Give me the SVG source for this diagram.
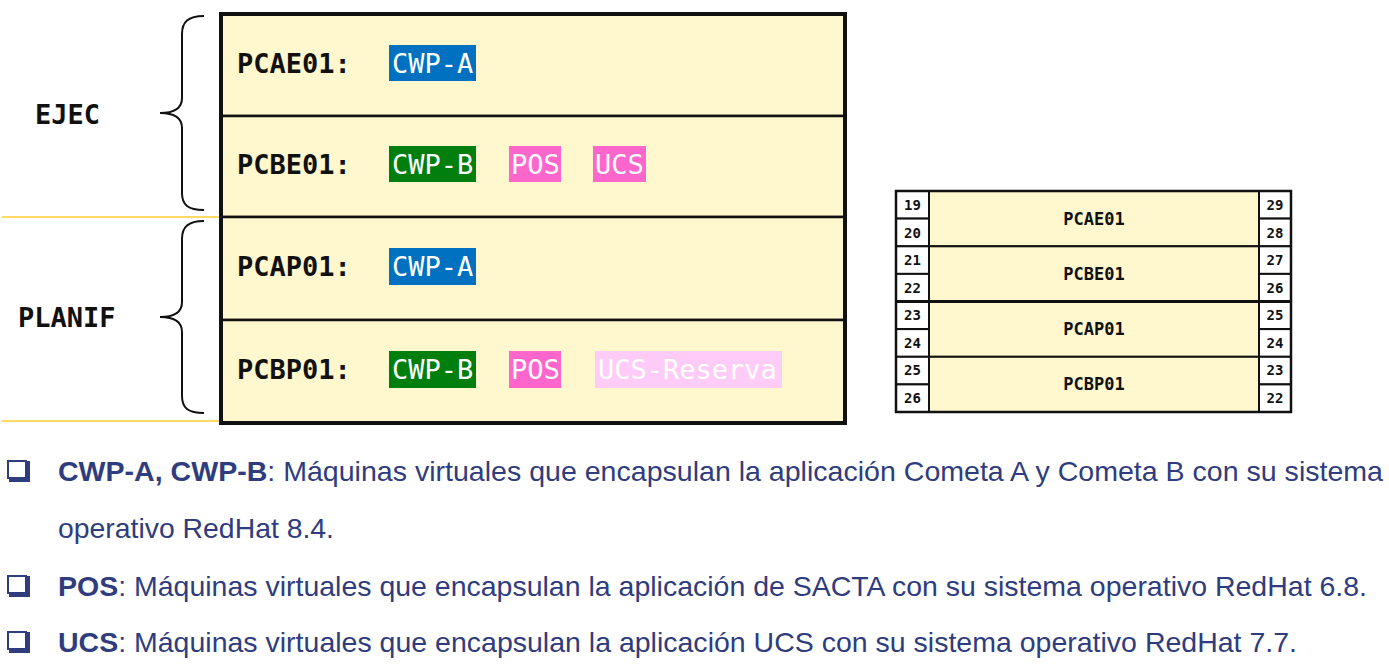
<svg xmlns="http://www.w3.org/2000/svg" width="1389" height="666" viewBox="0 0 1389 666">
<style>
.mono{font-family:"DejaVu Sans Mono","Liberation Mono",monospace;font-size:27px}
.b{font-weight:bold}
.lbl{fill:#111}
.hl{fill:#ffffff}
.row{fill:#FFF7CE;stroke:#111;stroke-width:2.5}
.brace{fill:none;stroke:#111;stroke-width:2}
.sep{stroke:#FFD966;stroke-width:2}
.tcell{fill:#ffffff;stroke:#111;stroke-width:2}
.trow{fill:#FFF7CE;stroke:#111;stroke-width:2}
.tnum{font-family:"DejaVu Sans Mono","Liberation Mono",monospace;font-size:14px;font-weight:bold;fill:#111;text-anchor:middle}
.tlbl{font-family:"DejaVu Sans Mono","Liberation Mono",monospace;font-size:17px;font-weight:bold;fill:#111;text-anchor:middle}
.body{font-family:"Liberation Sans",Arial,sans-serif;font-size:28px;fill:#2F3C7E}
.chk{fill:none;stroke:#2F3C7E;stroke-width:2}
.chks{fill:#2F3C7E}
</style>
<rect width="1389" height="666" fill="#ffffff"/>

<g id="separators">
<line class="sep" x1="2" y1="217" x2="221" y2="217"/>
<line class="sep" x1="2" y1="421" x2="221" y2="421"/>
</g>

<g id="group-ejec">
<path class="brace" d="M204 16 C188 16 182 22 182 34 L182 98 C182 108 174 113 160 113 C174 113 182 118 182 128 L182 193 C182 205 188 210 204 210"/>
<text class="mono b lbl" x="35" y="124">EJEC</text>
</g>
<g id="group-planif">
<path class="brace" d="M204 221 C188 221 182 227 182 239 L182 302 C182 312 174 317 160 317 C174 317 182 322 182 332 L182 396 C182 408 188 413 204 413"/>
<text class="mono b lbl" x="18" y="327">PLANIF</text>
</g>

<g id="row-PCAE01">
<rect class="row" x="221" y="14" width="624" height="102"/>
<text class="mono b lbl" x="237" y="73">PCAE01:</text>
<rect x="389" y="45" width="87" height="36" fill="#0070C0"/>
<text class="mono hl" x="392" y="73">CWP-A</text>
</g>
<g id="row-PCBE01">
<rect class="row" x="221" y="116" width="624" height="101"/>
<text class="mono b lbl" x="237" y="174">PCBE01:</text>
<rect x="389" y="146" width="87" height="36" fill="#007F0E"/>
<text class="mono hl" x="392" y="174">CWP-B</text>
<rect x="509" y="146" width="52" height="36" fill="#FF66CC"/>
<text class="mono hl" x="511" y="174">POS</text>
<rect x="593" y="146" width="53" height="36" fill="#FF66CC"/>
<text class="mono hl" x="595" y="174">UCS</text>
</g>
<g id="row-PCAP01">
<rect class="row" x="221" y="217" width="624" height="103"/>
<text class="mono b lbl" x="237" y="276">PCAP01:</text>
<rect x="389" y="248" width="87" height="37" fill="#0070C0"/>
<text class="mono hl" x="392" y="276">CWP-A</text>
</g>
<g id="row-PCBP01">
<rect class="row" x="221" y="320" width="624" height="103"/>
<text class="mono b lbl" x="237" y="379">PCBP01:</text>
<rect x="389" y="351" width="87" height="37" fill="#007F0E"/>
<text class="mono hl" x="392" y="379">CWP-B</text>
<rect x="509" y="351" width="52" height="37" fill="#FF66CC"/>
<text class="mono hl" x="511" y="379">POS</text>
<rect x="595" y="351" width="187" height="37" fill="#FFCCF7"/>
<text class="mono hl" x="598" y="379">UCS-Reserva</text>
</g>
<rect x="221" y="14" width="624" height="409" fill="none" stroke="#111" stroke-width="4"/>

<g id="rack">
<g id="rack-PCAE01">
<rect class="trow" x="929" y="191" width="330" height="55.3"/>
<rect class="tcell" x="896" y="191" width="33" height="27.6"/>
<rect class="tcell" x="896" y="218.6" width="33" height="27.7"/>
<rect class="tcell" x="1259" y="191" width="32" height="27.6"/>
<rect class="tcell" x="1259" y="218.6" width="32" height="27.7"/>
<text class="tnum" x="912.5" y="210">19</text>
<text class="tnum" x="912.5" y="238">20</text>
<text class="tnum" x="1275" y="210">29</text>
<text class="tnum" x="1275" y="238">28</text>
<text class="tlbl" x="1094" y="225">PCAE01</text>
</g>
<g id="rack-PCBE01">
<rect class="trow" x="929" y="246.3" width="330" height="55.2"/>
<rect class="tcell" x="896" y="246.3" width="33" height="27.6"/>
<rect class="tcell" x="896" y="273.9" width="33" height="27.6"/>
<rect class="tcell" x="1259" y="246.3" width="32" height="27.6"/>
<rect class="tcell" x="1259" y="273.9" width="32" height="27.6"/>
<text class="tnum" x="912.5" y="265">21</text>
<text class="tnum" x="912.5" y="293">22</text>
<text class="tnum" x="1275" y="265">27</text>
<text class="tnum" x="1275" y="293">26</text>
<text class="tlbl" x="1094" y="280">PCBE01</text>
</g>
<g id="rack-PCAP01">
<rect class="trow" x="929" y="301.5" width="330" height="55.3"/>
<rect class="tcell" x="896" y="301.5" width="33" height="27.6"/>
<rect class="tcell" x="896" y="329.1" width="33" height="27.7"/>
<rect class="tcell" x="1259" y="301.5" width="32" height="27.6"/>
<rect class="tcell" x="1259" y="329.1" width="32" height="27.7"/>
<text class="tnum" x="912.5" y="320">23</text>
<text class="tnum" x="912.5" y="348">24</text>
<text class="tnum" x="1275" y="320">25</text>
<text class="tnum" x="1275" y="348">24</text>
<text class="tlbl" x="1094" y="335">PCAP01</text>
</g>
<g id="rack-PCBP01">
<rect class="trow" x="929" y="356.8" width="330" height="55.2"/>
<rect class="tcell" x="896" y="356.8" width="33" height="27.6"/>
<rect class="tcell" x="896" y="384.4" width="33" height="27.6"/>
<rect class="tcell" x="1259" y="356.8" width="32" height="27.6"/>
<rect class="tcell" x="1259" y="384.4" width="32" height="27.6"/>
<text class="tnum" x="912.5" y="375">25</text>
<text class="tnum" x="912.5" y="403">26</text>
<text class="tnum" x="1275" y="375">23</text>
<text class="tnum" x="1275" y="403">22</text>
<text class="tlbl" x="1094" y="390">PCBP01</text>
</g>
<line x1="896" y1="301.5" x2="1291" y2="301.5" stroke="#111" stroke-width="2.8"/>
<rect x="896" y="191" width="395" height="221" fill="none" stroke="#111" stroke-width="2.5"/>
</g>

<g id="legend">
<g id="legend-cwp">
<rect class="chk" x="8" y="461" width="18" height="17"/>
<path class="chks" d="M9 477 H26 V461 H30 V482 H9 Z"/>
<text class="body" x="58" y="481" textLength="1325" lengthAdjust="spacingAndGlyphs"><tspan font-weight="bold">CWP-A, CWP-B</tspan>: Máquinas virtuales que encapsulan la aplicación Cometa A y Cometa B con su sistema</text>
<text class="body" x="58" y="538" textLength="276" lengthAdjust="spacingAndGlyphs">operativo RedHat 8.4.</text>
</g>
<g id="legend-pos">
<rect class="chk" x="8" y="576" width="18" height="17"/>
<path class="chks" d="M9 592 H26 V576 H30 V597 H9 Z"/>
<text class="body" x="58" y="596" textLength="1309" lengthAdjust="spacingAndGlyphs"><tspan font-weight="bold">POS</tspan>: Máquinas virtuales que encapsulan la aplicación de SACTA con su sistema operativo RedHat 6.8.</text>
</g>
<g id="legend-ucs">
<rect class="chk" x="8" y="632" width="18" height="17"/>
<path class="chks" d="M9 648 H26 V632 H30 V653 H9 Z"/>
<text class="body" x="58" y="652" textLength="1239" lengthAdjust="spacingAndGlyphs"><tspan font-weight="bold">UCS</tspan>: Máquinas virtuales que encapsulan la aplicación UCS con su sistema operativo RedHat 7.7.</text>
</g>
</g>
</svg>
